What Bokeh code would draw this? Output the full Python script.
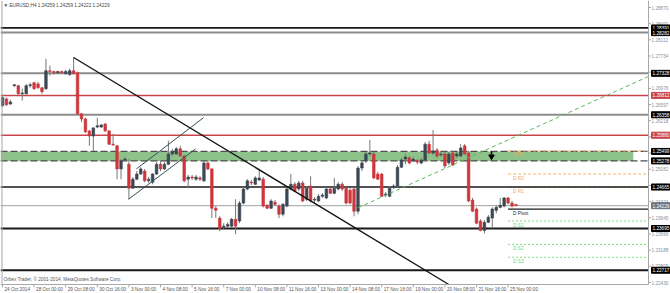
from bokeh.plotting import figure
from bokeh.models import Range1d, ColumnDataSource
from bokeh.embed import file_html
from bokeh.resources import INLINE
from bokeh.core.properties import value

FONT = "Liberation Sans"

title_text = "\u25bc EURUSD,H4  1.24259 1.24259 1.24222 1.24229"
copyright_text = "Orbex Trader, \u00a9 2001-2014, MetaQuotes Software Corp."

# ---- EURUSD H4 candles ----
opens = [1.2657, 1.2673, 1.2661, 1.2704, 1.2704, 1.2685, 1.2685, 1.2704, 1.2711, 1.2708,
         1.2699, 1.2697, 1.2739, 1.2737, 1.2734, 1.2737, 1.2732, 1.2730, 1.2739, 1.2734,
         1.2638, 1.2626, 1.2598, 1.2586, 1.2607, 1.2607, 1.2614, 1.2598, 1.2567, 1.2563,
         1.2509, 1.2530, 1.2520, 1.2464, 1.2485, 1.2497, 1.2504, 1.2481, 1.2478, 1.2497,
         1.2520, 1.2509, 1.2520, 1.2544, 1.2544, 1.2556, 1.2539, 1.2485, 1.2490, 1.2485,
         1.2488, 1.2481, 1.2523, 1.2509, 1.2417, 1.2394, 1.2372, 1.2375, 1.2375, 1.2391,
         1.2387, 1.2429, 1.2462, 1.2478, 1.2473, 1.2483, 1.2485, 1.2424, 1.2417, 1.2431,
         1.2422, 1.2403, 1.2422, 1.2462, 1.2473, 1.2462, 1.2476, 1.2438, 1.2469, 1.2436,
         1.2434, 1.2445, 1.2441, 1.2462, 1.2452, 1.2462, 1.2473, 1.2464, 1.2459, 1.2462,
         1.2410, 1.2511, 1.2528, 1.2544, 1.2544, 1.2497, 1.2497, 1.2448, 1.2445, 1.2466,
         1.2469, 1.2513, 1.2532, 1.2535, 1.2528, 1.2528, 1.2523, 1.2530, 1.2567, 1.2546,
         1.2553, 1.2542, 1.2544, 1.2523, 1.2546, 1.2539, 1.2539, 1.2563, 1.2546, 1.2436,
         1.2415, 1.2387, 1.2365, 1.2384, 1.2394, 1.2412, 1.2419, 1.2422, 1.2441, 1.2429,
         1.24259]
highs = [1.2680, 1.2676, 1.2671, 1.2708, 1.2706, 1.2697, 1.2708, 1.2711, 1.2713, 1.2713,
         1.2701, 1.2767, 1.2751, 1.2739, 1.2739, 1.2739, 1.2741, 1.2744, 1.2770, 1.2737,
         1.2640, 1.2629, 1.2600, 1.2607, 1.2629, 1.2614, 1.2617, 1.2600, 1.2591, 1.2565,
         1.2532, 1.2537, 1.2532, 1.2490, 1.2504, 1.2513, 1.2509, 1.2490, 1.2499, 1.2525,
         1.2528, 1.2525, 1.2575, 1.2556, 1.2560, 1.2563, 1.2542, 1.2495, 1.2495, 1.2495,
         1.2492, 1.2528, 1.2528, 1.2511, 1.2422, 1.2398, 1.2382, 1.2384, 1.2394, 1.2438,
         1.2434, 1.2466, 1.2485, 1.2483, 1.2492, 1.2509, 1.2490, 1.2426, 1.2438, 1.2436,
         1.2426, 1.2429, 1.2464, 1.2497, 1.2478, 1.2481, 1.2481, 1.2469, 1.2492, 1.2443,
         1.2450, 1.2452, 1.2466, 1.2466, 1.2488, 1.2478, 1.2478, 1.2466, 1.2464, 1.2466,
         1.2516, 1.2528, 1.2549, 1.2577, 1.2549, 1.2502, 1.2499, 1.2455, 1.2469, 1.2473,
         1.2518, 1.2535, 1.2544, 1.2539, 1.2537, 1.2532, 1.2535, 1.2572, 1.2575, 1.2600,
         1.2558, 1.2549, 1.2551, 1.2549, 1.2551, 1.2549, 1.2567, 1.2567, 1.2551, 1.2441,
         1.2419, 1.2391, 1.2389, 1.2401, 1.2419, 1.2424, 1.2441, 1.2443, 1.2443, 1.2434,
         1.24259]
lows = [1.2654, 1.2657, 1.2659, 1.2701, 1.2683, 1.2669, 1.2683, 1.2699, 1.2694, 1.2697,
        1.2685, 1.2694, 1.2727, 1.2730, 1.2732, 1.2732, 1.2730, 1.2727, 1.2730, 1.2636,
        1.2619, 1.2593, 1.2563, 1.2551, 1.2605, 1.2605, 1.2596, 1.2565, 1.2563, 1.2485,
        1.2485, 1.2528, 1.2438, 1.2462, 1.2483, 1.2495, 1.2478, 1.2476, 1.2473, 1.2495,
        1.2504, 1.2506, 1.2518, 1.2539, 1.2542, 1.2537, 1.2478, 1.2464, 1.2483, 1.2481,
        1.2481, 1.2478, 1.2506, 1.2394, 1.2394, 1.2363, 1.2368, 1.2370, 1.2372, 1.2356,
        1.2382, 1.2426, 1.2459, 1.2471, 1.2471, 1.2481, 1.2419, 1.2415, 1.2415, 1.2422,
        1.2394, 1.2398, 1.2419, 1.2459, 1.2455, 1.2457, 1.2431, 1.2434, 1.2431, 1.2429,
        1.2431, 1.2441, 1.2438, 1.2450, 1.2450, 1.2459, 1.2457, 1.2426, 1.2426, 1.2398,
        1.2403, 1.2504, 1.2523, 1.2539, 1.2485, 1.2483, 1.2443, 1.2443, 1.2443, 1.2462,
        1.2466, 1.2511, 1.2520, 1.2520, 1.2525, 1.2520, 1.2520, 1.2528, 1.2544, 1.2542,
        1.2535, 1.2537, 1.2511, 1.2518, 1.2516, 1.2535, 1.2537, 1.2542, 1.2431, 1.2408,
        1.2379, 1.2363, 1.2358, 1.2382, 1.2370, 1.2405, 1.2417, 1.2419, 1.2426, 1.2419,
        1.24222]
closes = [1.2676, 1.2659, 1.2666, 1.2706, 1.2685, 1.2687, 1.2704, 1.2706, 1.2697, 1.2699,
          1.2690, 1.2739, 1.2737, 1.2734, 1.2737, 1.2734, 1.2737, 1.2739, 1.2732, 1.2638,
          1.2626, 1.2596, 1.2586, 1.2605, 1.2610, 1.2612, 1.2598, 1.2567, 1.2565, 1.2509,
          1.2528, 1.2532, 1.2464, 1.2485, 1.2497, 1.2509, 1.2481, 1.2485, 1.2497, 1.2520,
          1.2509, 1.2520, 1.2544, 1.2549, 1.2556, 1.2539, 1.2481, 1.2490, 1.2488, 1.2490,
          1.2485, 1.2523, 1.2509, 1.2417, 1.2412, 1.2370, 1.2375, 1.2379, 1.2391, 1.2375,
          1.2429, 1.2462, 1.2481, 1.2476, 1.2488, 1.2488, 1.2422, 1.2417, 1.2434, 1.2426,
          1.2403, 1.2426, 1.2462, 1.2473, 1.2457, 1.2476, 1.2434, 1.2464, 1.2434, 1.2438,
          1.2445, 1.2448, 1.2462, 1.2452, 1.2464, 1.2473, 1.2462, 1.2429, 1.2429, 1.2410,
          1.2511, 1.2523, 1.2544, 1.2546, 1.2488, 1.2485, 1.2445, 1.2450, 1.2464, 1.2469,
          1.2513, 1.2530, 1.2537, 1.2523, 1.2532, 1.2525, 1.2530, 1.2567, 1.2546, 1.2551,
          1.2539, 1.2544, 1.2516, 1.2544, 1.2518, 1.2544, 1.2558, 1.2544, 1.2434, 1.2410,
          1.2382, 1.2365, 1.2384, 1.2396, 1.2415, 1.2419, 1.2424, 1.2441, 1.2429, 1.2422,
          1.24229]
bar_index = list(range(len(opens)))

# ---- time axis ----
date_tick_index = [0, 8, 16, 24, 32, 40, 48, 56, 64, 72, 80, 88, 96, 104, 112, 120, 128]
date_tick_labels = ["24 Oct 2014", "28 Oct 00:00", "29 Oct 08:00", "30 Oct 16:00", "3 Nov 00:00",
                    "4 Nov 08:00", "5 Nov 16:00", "7 Nov 00:00", "10 Nov 08:00", "11 Nov 16:00",
                    "13 Nov 00:00", "14 Nov 08:00", "17 Nov 16:00", "19 Nov 00:00", "20 Nov 08:00",
                    "21 Nov 16:00", "25 Nov 00:00"]

# ---- price axis ----
price_ticks = [1.28870, 1.28491, 1.28112, 1.27734, 1.27355, 1.26976, 1.26597, 1.26218, 1.25839,
               1.25461, 1.25082, 1.24703, 1.24324, 1.23945, 1.23566, 1.23188, 1.22809, 1.22430]

# ---- horizontal levels ----
levels_black = [1.28391, 1.23695, 1.22717]
levels_black_thin = [1.24665]
levels_gray = [1.28282, 1.27328, 1.26358]
levels_red = [1.26812, 1.25880]
zone_top, zone_bottom = 1.25499, 1.25278
zone_right_index = 159.7
bid_price = 1.24229

# ---- daily pivots ----
pivot_start_index = 128
pivot_names_r = ["D R3", "D R2", "D R1"]
pivot_values_r = [1.2551, 1.2497, 1.2466]
pivot_names_p = ["D Pivot"]
pivot_values_p = [1.2415]
pivot_names_s = ["D S1", "D S2", "D S3"]
pivot_values_s = [1.2387, 1.2332, 1.2302]

# ---- drawn objects ----
trend_main_x = [18, 90]
trend_main_y = [1.2770, 1.2367]
channel_upper_x = [33.9, 50.9]
channel_upper_y = [1.2509, 1.2629]
channel_lower_x = [31.9, 48.9]
channel_lower_y = [1.2438, 1.2556]
trend_up_x = [90, 112]
trend_up_y = [1.2418, 1.2510]
arrow_index = [123.8]
arrow_price = [1.2538]

# ---------------- layout (pixel scale of the MT4 window) ----------------
PX_PER_BAR = 3.95          # pixels per bar
PRICE_PER_PX = 0.00023418  # price per pixel
W, H = 670, 293
x_start = -2 / PX_PER_BAR
x_end = x_start + W / PX_PER_BAR
y_top = 1.29034
y_bottom = y_top - H * PRICE_PER_PX
CHART_RIGHT = x_start + 648 / PX_PER_BAR
CHART_BOTTOM = y_top - 284 * PRICE_PER_PX

BULL = "#3b4753"
BEAR = "#cf353b"
WICK = "#777777"
AXIS = "#a8a8a8"
FS = "4.7px"

p = figure(frame_width=W, frame_height=H,
           x_range=Range1d(x_start, x_end), y_range=Range1d(y_bottom, y_top),
           output_backend="svg", toolbar_location=None,
           x_axis_location=None, y_axis_location=None,
           min_border=0, background_fill_color="white", border_fill_color="white",
           outline_line_color=None)
p.grid.visible = False

# green zone
p.quad(left=[x_start], right=[zone_right_index], top=[zone_top], bottom=[zone_bottom],
       fill_color="#8dc38a", line_color=None)


def hlines(vals, **kw):
    p.segment(x0=[x_start] * len(vals), x1=[CHART_RIGHT] * len(vals), y0=vals, y1=vals, **kw)


hlines(levels_gray, line_color="#8c8c8c", line_width=2)
hlines(levels_red, line_color="#c8454a", line_width=1.5)
hlines([zone_top, zone_bottom], line_color="#4d4d4d", line_width=1.3, line_dash="7 3")
hlines([bid_price], line_color="#a0a0a0", line_width=1)

# pivots
p.segment(x0=[pivot_start_index] * 3, x1=[CHART_RIGHT] * 3, y0=pivot_values_r, y1=pivot_values_r,
          line_color="#f2b46c", line_width=1, line_dash="3 2")
p.segment(x0=[pivot_start_index] * 3, x1=[CHART_RIGHT] * 3, y0=pivot_values_s, y1=pivot_values_s,
          line_color="#7ddc7d", line_width=1, line_dash="2 2")

hlines(levels_black, line_color="#1a1a1a", line_width=1.8)
hlines(levels_black_thin, line_color="#1a1a1a", line_width=1.4)
p.segment(x0=[pivot_start_index], x1=[CHART_RIGHT], y0=pivot_values_p, y1=pivot_values_p,
          line_color="#1a1a1a", line_width=1.2)

# candles
src = ColumnDataSource(dict(
    idx=bar_index, open=opens, high=highs, low=lows, close=closes,
    top=[max(o, c) for o, c in zip(opens, closes)],
    bottom=[min(o, c) for o, c in zip(opens, closes)],
    color=[BULL if c >= o else BEAR for o, c in zip(opens, closes)],
))
p.segment(x0="idx", x1="idx", y0="low", y1="high", line_color=WICK, line_width=1, source=src)
p.vbar(x="idx", width=0.66, top="top", bottom="bottom", fill_color="color",
       line_color="color", line_width=0.6, source=src)

# trend lines
s_main = (trend_main_y[1] - trend_main_y[0]) / (trend_main_x[1] - trend_main_x[0])
x_hit = trend_main_x[0] + (CHART_BOTTOM - trend_main_y[0]) / s_main
p.line([trend_main_x[0], x_hit], [trend_main_y[0], CHART_BOTTOM], line_color="#111111", line_width=1.3)
p.line(channel_upper_x, channel_upper_y, line_color="#35505a", line_width=1)
p.line(channel_lower_x, channel_lower_y, line_color="#35505a", line_width=1)
s_up = (trend_up_y[1] - trend_up_y[0]) / (trend_up_x[1] - trend_up_x[0])
p.line([trend_up_x[0], CHART_RIGHT], [trend_up_y[0], trend_up_y[0] + s_up * (CHART_RIGHT - trend_up_x[0])],
       line_color="#5cb85c", line_width=1, line_dash="4 3")

# arrow object
p.segment(x0=arrow_index, x1=arrow_index, y0=[a + 2 * PRICE_PER_PX for a in arrow_price],
          y1=[a + 5 * PRICE_PER_PX for a in arrow_price], line_color="black", line_width=1.6)
p.scatter(x=arrow_index, y=arrow_price, marker="inverted_triangle", size=5.5,
          fill_color="black", line_color="black")

# axes frame lines and ticks
p.segment(x0=[CHART_RIGHT], x1=[CHART_RIGHT], y0=[CHART_BOTTOM], y1=[y_top], line_color=AXIS, line_width=1)
p.segment(x0=[x_start], x1=[CHART_RIGHT], y0=[CHART_BOTTOM], y1=[CHART_BOTTOM], line_color=AXIS, line_width=1)
p.segment(x0=[x_start + 1.5 / PX_PER_BAR], x1=[x_start + 1.5 / PX_PER_BAR], y0=[CHART_BOTTOM], y1=[y_top],
          line_color=AXIS, line_width=1)
p.segment(x0=[CHART_RIGHT] * len(price_ticks), x1=[CHART_RIGHT + 2.5 / PX_PER_BAR] * len(price_ticks),
          y0=price_ticks, y1=price_ticks, line_color=AXIS, line_width=1)
p.segment(x0=date_tick_index, x1=date_tick_index, y0=[CHART_BOTTOM] * len(date_tick_index),
          y1=[CHART_BOTTOM - 3 * PRICE_PER_PX] * len(date_tick_index), line_color=AXIS, line_width=1)

# price scale labels
p.text(x=[CHART_RIGHT] * len(price_ticks), y=price_ticks, text=["%.5f" % v for v in price_ticks],
       x_offset=3, text_font=value(FONT), text_font_size=FS, text_color="#8a949e",
       text_baseline="middle", text_align="left")


def price_boxes(vals, bg):
    p.text(x=[CHART_RIGHT] * len(vals), y=vals, text=["%.5f" % v for v in vals],
           x_offset=3, text_font=value(FONT), text_font_size=FS, text_color="#ffffff",
           text_baseline="middle", text_align="left",
           background_fill_color=bg, border_line_color=bg, padding=1)


price_boxes(levels_black + levels_black_thin + levels_gray + [zone_top, zone_bottom], "#000000")
price_boxes(levels_red, "#c8454a")
price_boxes([bid_price], "#6b7680")

# pivot labels
def pivot_labels(names, vals, color):
    p.text(x=[pivot_start_index] * len(names), y=[v - 1.5 * PRICE_PER_PX for v in vals], text=names,
           x_offset=5, text_font=value(FONT), text_font_size=FS, text_color=color,
           text_baseline="top", text_align="left")


pivot_labels(pivot_names_r, pivot_values_r, "#eda84f")
pivot_labels(pivot_names_p, pivot_values_p, "#222222")
pivot_labels(pivot_names_s, pivot_values_s, "#6fd66f")

# date labels
p.text(x=date_tick_index, y=[CHART_BOTTOM - 4.8 * PRICE_PER_PX] * len(date_tick_index),
       text=date_tick_labels, x_offset=2, text_font=value(FONT), text_font_size=FS,
       text_color="#555555", text_baseline="middle", text_align="left")

# title and copyright
p.text(x=[x_start], y=[y_top - 5 * PRICE_PER_PX], text=[title_text], x_offset=3,
       text_font=value(FONT), text_font_size=FS, text_color="#444444",
       text_baseline="middle", text_align="left")
p.text(x=[x_start], y=[CHART_BOTTOM + 5 * PRICE_PER_PX], text=[copyright_text], x_offset=3,
       text_font=value(FONT), text_font_size=FS, text_color="#555555",
       text_baseline="middle", text_align="left")

open("out.html", "w").write(file_html(p, INLINE))
